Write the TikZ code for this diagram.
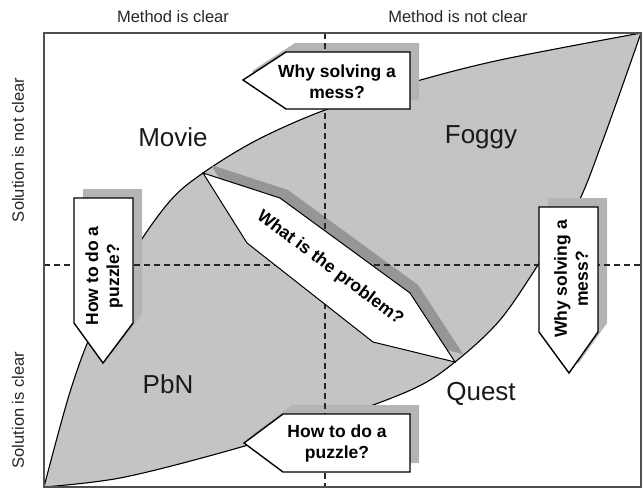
\documentclass[tikz,border=0pt]{standalone}
\usepackage{fontspec}
\setmainfont{Liberation Sans}
\definecolor{leaffill}{RGB}{196,196,196}
\definecolor{boxshadow}{RGB}{180,180,180}
\definecolor{bandshadow}{RGB}{150,150,150}
\definecolor{framecol}{RGB}{80,80,80}
\begin{document}
\begin{tikzpicture}[x=1pt,y=-1pt,
  quadrant/.style={font=\fontsize{16.5}{19}\selectfont, text=black!85, inner sep=0pt},
  region/.style={font=\fontsize{26}{30}\selectfont, text=black!90, inner sep=0pt},
  question/.style={font=\bfseries\fontsize{17.5}{21}\selectfont, align=center, inner sep=0pt},
  card/.style={draw=black, line width=1.4pt, fill=white, line join=miter},
  band/.style={draw=black, line width=1pt, fill=white},
  axis/.style={dash pattern=on 6pt off 4pt, line width=1.1pt, black!85},
  leafline/.style={draw=black, line width=1.1pt, fill=leaffill},
]
\useasboundingbox (0,0) rectangle (643,488);

% the leaf-shaped region between the two curves
\path[leafline]
  plot[smooth, tension=0.55] coordinates {(44,487) (70,392) (95,325) (133,253) (170,201) (203,173) (257,140) (325,110) (410,83) (500,60) (641,33)}
  -- plot[smooth, tension=0.55] coordinates {(641,33) (603,140) (577,205) (540,262) (500,320) (455,362) (413,389) (330,420) (220,453) (120,478) (44,487)}
  -- cycle;

% dark shadow of the diagonal band, kept inside the leaf
\begin{scope}
  \clip plot[smooth, tension=0.55] coordinates {(44,487) (70,392) (95,325) (133,253) (170,201) (203,173) (257,140) (325,110) (410,83) (500,60) (641,33)}
  -- plot[smooth, tension=0.55] coordinates {(641,33) (603,140) (577,205) (540,262) (500,320) (455,362) (413,389) (330,420) (220,453) (120,478) (44,487)}
  -- cycle;
  \fill[bandshadow, shift={(8,-8)}] (203,173) -- (280,198) -- (410,293) -- (455,362) -- (373,342) -- (247,243) -- cycle;
\end{scope}

% shadows of the four arrow cards
\begin{scope}[shift={(9,-9)}]
  \fill[boxshadow] (243,80) -- (286,52) -- (410,52) -- (410,109) -- (286,109) -- cycle;
  \fill[boxshadow] (244,443) -- (283,414) -- (410,414) -- (410,472) -- (283,472) -- cycle;
  \fill[boxshadow] (74,198) -- (133,198) -- (133,323) -- (103,363) -- (74,323) -- cycle;
  \fill[boxshadow] (539,207) -- (598,207) -- (598,332) -- (569,373) -- (539,332) -- cycle;
\end{scope}

% dashed axes
\coordinate (vtop) at (325,33);
\coordinate (vbot) at (325,487);
\coordinate (hleft) at (44,265);
\coordinate (hright) at (641,265);
\draw[axis] (vtop) -- (vbot);
\draw[axis] (hleft) -- (hright);

% outer frame
\draw[framecol, line width=1.5pt] (44,33) rectangle (641,487);

% diagonal band and arrow cards
\draw[band] (203,173) -- (280,198) -- (410,293) -- (455,362) -- (373,342) -- (247,243) -- cycle;
\draw[card] (243,80) -- (286,52) -- (410,52) -- (410,109) -- (286,109) -- cycle;
\draw[card] (244,443) -- (283,414) -- (410,414) -- (410,472) -- (283,472) -- cycle;
\draw[card] (74,198) -- (133,198) -- (133,323) -- (103,363) -- (74,323) -- cycle;
\draw[card] (539,207) -- (598,207) -- (598,332) -- (569,373) -- (539,332) -- cycle;

% axis captions
\node[quadrant] (mclear) at (173,17) {Method is clear};
\node[quadrant] (mnotclear) at (458,17) {Method is not clear};
\node[quadrant, rotate=90] (snotclear) at (18,150) {Solution is not clear};
\node[quadrant, rotate=90] (sclear) at (18,410) {Solution is clear};

% quadrant names
\node[region] (movie) at (173,137) {Movie};
\node[region] (foggy) at (481,137) {Foggy};
\node[region] (pbn) at (168,384) {PbN};
\node[region] (quest) at (481,394) {Quest};

% questions on the cards
\node[question] (qtop) at (337,82) {Why solving a\\mess?};
\node[question] (qbottom) at (337,443) {How to do a\\puzzle?};
\node[question, rotate=90] (qleft) at (104,276) {How to do a\\puzzle?};
\node[question, rotate=90] (qright) at (571,279) {Why solving a\\mess?};
\node[question, rotate=-37] (qmiddle) at (330,268) {What is the problem?};
\end{tikzpicture}
\end{document}
